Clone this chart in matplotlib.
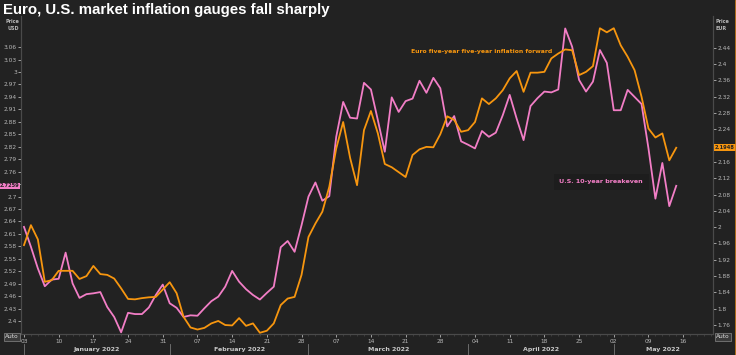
import numpy as np
import pandas as pd
import matplotlib
matplotlib.use("Agg")
import matplotlib.pyplot as plt
import matplotlib.transforms as mtransforms

# trading days Jan 3 - May 13 2022
dates = pd.bdate_range("2022-01-03", "2022-05-13")

us_breakeven = [
    2.627, 2.579, 2.527, 2.484, 2.500, 2.502, 2.565, 2.491, 2.456, 2.465,
    2.467, 2.470, 2.434, 2.410, 2.373, 2.420, 2.417, 2.417, 2.433, 2.463,
    2.488, 2.443, 2.432, 2.410, 2.414, 2.413, 2.431, 2.448, 2.459, 2.483,
    2.521, 2.495, 2.477, 2.463, 2.452, 2.468, 2.483, 2.578, 2.593, 2.567,
    2.631, 2.700, 2.734, 2.690, 2.701, 2.844, 2.928, 2.890, 2.888, 2.974,
    2.958, 2.884, 2.808, 2.939, 2.904, 2.930, 2.936, 2.979, 2.950, 2.986,
    2.961, 2.869, 2.894, 2.833, 2.825, 2.816, 2.858, 2.844, 2.854, 2.896,
    2.945, 2.888, 2.836, 2.918, 2.937, 2.953, 2.951, 2.958, 3.105, 3.061,
    2.981, 2.953, 2.977, 3.053, 3.022, 2.908, 2.908, 2.957, 2.940, 2.923,
    2.816, 2.695, 2.781, 2.677, 2.7259,
]

euro_5y5y = [
    1.956, 2.005, 1.970, 1.866, 1.870, 1.893, 1.893, 1.893, 1.873, 1.880,
    1.905, 1.885, 1.883, 1.874, 1.850, 1.824, 1.823, 1.826, 1.828, 1.829,
    1.847, 1.865, 1.838, 1.780, 1.754, 1.749, 1.753, 1.764, 1.770, 1.760,
    1.759, 1.777, 1.758, 1.764, 1.741, 1.746, 1.764, 1.809, 1.825, 1.829,
    1.883, 1.976, 2.009, 2.038, 2.099, 2.193, 2.258, 2.170, 2.103, 2.238,
    2.285, 2.230, 2.155, 2.147, 2.135, 2.123, 2.177, 2.191, 2.197, 2.196,
    2.228, 2.272, 2.263, 2.234, 2.238, 2.258, 2.316, 2.302, 2.316, 2.336,
    2.365, 2.383, 2.332, 2.379, 2.379, 2.381, 2.414, 2.426, 2.436, 2.434,
    2.373, 2.381, 2.395, 2.488, 2.478, 2.488, 2.446, 2.418, 2.385, 2.320,
    2.242, 2.220, 2.230, 2.164, 2.1948,
]

left_ticks = [2.4, 2.43, 2.46, 2.49, 2.52, 2.55, 2.58, 2.61, 2.64, 2.67, 2.7,
              2.73, 2.76, 2.79, 2.82, 2.85, 2.88, 2.91, 2.94, 2.97, 3.0, 3.03, 3.06]
right_ticks = [1.76, 1.8, 1.84, 1.88, 1.92, 1.96, 2.0, 2.04, 2.08, 2.12, 2.16,
               2.2, 2.24, 2.28, 2.32, 2.36, 2.4, 2.44]
months = ["January 2022", "February 2022", "March 2022", "April 2022", "May 2022"]

bg = "#222222"
pink = "#f27ec6"
orange = "#f7960f"
txt = "#b8b8b8"
spine_c = "#4a4a4a"

fig = plt.figure(figsize=(7.36, 3.55), dpi=100, facecolor=bg)
ax = fig.add_axes([21 / 736, 1 - 334 / 355, (713 - 21) / 736, (334 - 16) / 355])
ax.set_facecolor(bg)
ax2 = ax.twinx()

x = np.arange(len(dates))
ax.plot(x, us_breakeven, color=pink, lw=1.3, zorder=3)
ax2.plot(x, euro_5y5y, color=orange, lw=1.3, zorder=3)

xmax = 99.3
ax.set_xlim(-0.43, xmax)
ax.set_ylim(2.369, 3.135)
ax2.set_ylim(1.738, 2.518)

for a in (ax, ax2):
    for s in a.spines.values():
        s.set_color(spine_c)
        s.set_linewidth(0.8)
    a.spines["top"].set_visible(False)

ax.set_yticks(left_ticks)
ax.set_yticklabels([f"{v:g}" for v in left_ticks])
ax2.set_yticks(right_ticks)
ax2.set_yticklabels([f"{v:g}" for v in right_ticks])
ax.tick_params(axis="y", colors=txt, labelsize=4.2, length=2, width=0.6, pad=1)
ax2.tick_params(axis="y", colors=txt, labelsize=4.2, length=2, width=0.6, pad=1)
# labels covered by the last-value boxes
ax.get_yticklabels()[11].set_visible(False)
ax2.get_yticklabels()[11].set_visible(False)

# x ticks: Mondays, minor tick each trading day
all_days = pd.bdate_range("2022-01-03", "2022-05-20")
mondays = [i for i, d in enumerate(all_days) if d.weekday() == 0 and i <= xmax]
ax.set_xticks(mondays)
ax.set_xticklabels([all_days[i].strftime("%d") for i in mondays])
ax.set_xticks([i for i in range(len(all_days)) if i <= xmax], minor=True)
ax.tick_params(axis="x", which="major", colors=txt, labelsize=4.2, length=2,
               width=0.6, pad=1.5)
ax.tick_params(axis="x", which="minor", colors=spine_c, length=1.5, width=0.5)

# month labels and separators
trans = mtransforms.blended_transform_factory(ax.transData, ax.transAxes)
month_ids = pd.Series(all_days.month)
starts = [int(month_ids[month_ids == m].index[0]) for m in range(1, 6)]
edges = starts + [xmax]
for i, name in enumerate(months):
    ax.plot([starts[i], starts[i]], [-0.03, -0.062], color="#777777", lw=0.6,
            transform=trans, clip_on=False)
    ax.text((edges[i] + edges[i + 1]) / 2, -0.05, name, transform=trans,
            ha="center", va="center", fontsize=4.5, fontweight="bold", color="#c8c8c8")

# axis captions
fig.text(19 / 736, 1 - 25 / 355, "Price\nUSD", ha="right", va="center",
         fontsize=3.5, fontweight="bold", color=txt, linespacing=1.5)
fig.text(716 / 736, 1 - 25 / 355, "Price\nEUR", ha="left", va="center",
         fontsize=3.5, fontweight="bold", color=txt, linespacing=1.5)

# last value boxes
t_left = mtransforms.blended_transform_factory(ax.transAxes, ax.transData)
ax.text(-0.003, us_breakeven[-1], f"{us_breakeven[-1]:.4f}", transform=t_left,
        ha="right", va="center", fontsize=3.7, color="#222222", fontweight="bold",
        bbox=dict(boxstyle="square,pad=0.15", fc=pink, ec="none"), clip_on=False)
t_right = mtransforms.blended_transform_factory(ax2.transAxes, ax2.transData)
ax2.text(1.003, euro_5y5y[-1], f"{euro_5y5y[-1]:.4f}", transform=t_right,
         ha="left", va="center", fontsize=3.7, color="#222222", fontweight="bold",
         bbox=dict(boxstyle="square,pad=0.15", fc=orange, ec="none"), clip_on=False)

# series labels
ax2.text(0.563, 0.887, "Euro five-year five-year inflation forward",
         transform=ax.transAxes, fontsize=4.4, fontweight="bold", color=orange,
         ha="left", va="center")
ax.text(0.778, 0.478, "U.S. 10-year breakeven", transform=ax.transAxes,
        fontsize=4.6, fontweight="bold", color=pink, ha="left", va="center",
        bbox=dict(boxstyle="square,pad=0.9", fc="#1d1d1d", ec="none"))

# "Auto" buttons
for xp in (12 / 736, 723 / 736):
    fig.text(xp, 1 - 337 / 355, "Auto", ha="center", va="center", fontsize=4.2,
             color="#dddddd", bbox=dict(boxstyle="square,pad=0.2", fc="#3a3a3a",
                                        ec="#888888", lw=0.5))

fig.text(3 / 736, 1 - 10 / 355, "Euro, U.S. market inflation gauges fall sharply",
         ha="left", va="center", fontsize=10.8, fontweight="bold", color="white",
         family="Liberation Sans")

# orange frame edge on the right
fig.add_artist(plt.Line2D([0.999, 0.999], [0, 1], color="#c87a1a", lw=0.6,
                          transform=fig.transFigure))

fig.savefig("out.png", dpi=100, facecolor=bg)
